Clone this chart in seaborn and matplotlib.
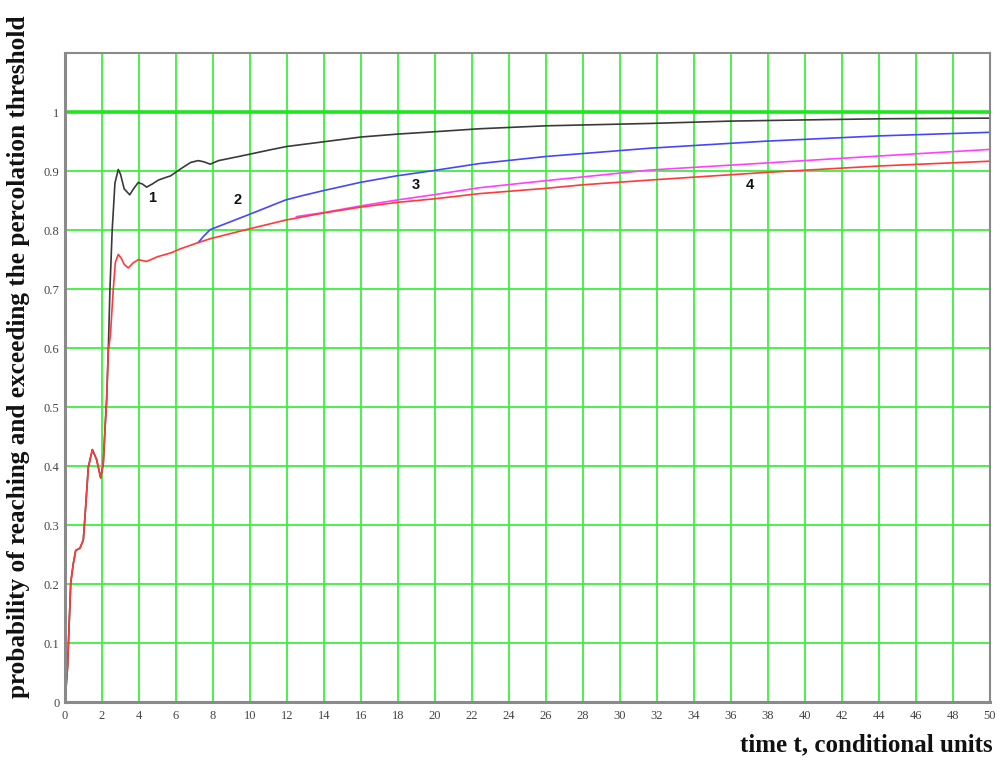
import numpy as np
import pandas as pd
import matplotlib
matplotlib.use("Agg")
import matplotlib.pyplot as plt
import seaborn as sns

# early part shared by all curves
t_common = [0.0, 0.14, 0.22, 0.31, 0.45, 0.58, 0.81, 0.99, 1.08, 1.26, 1.48, 1.71, 1.93, 2.07,
            2.16, 2.25, 2.34]
p_common = [0.0, 0.06, 0.128, 0.202, 0.235, 0.257, 0.261, 0.275, 0.314, 0.398, 0.428, 0.411, 0.38, 0.405,
            0.462, 0.512, 0.596]

# curve 1 (black)
t_black = [2.43, 2.55, 2.70, 2.88, 3.0, 3.2, 3.5, 3.7, 3.96, 4.2, 4.41, 4.7, 5.05, 5.5, 5.7,
           6.3, 6.8, 7.2, 7.5, 7.85, 8.3, 9.4, 11.2, 12.0, 14.0, 16.0, 18.0, 20.0, 22.4, 26.0,
           31.6, 36.0, 40.0, 44.3, 50.0]
p_black = [0.70, 0.80, 0.88, 0.903, 0.895, 0.87, 0.86, 0.87, 0.881, 0.878, 0.873, 0.878, 0.885, 0.89, 0.892,
           0.905, 0.915, 0.918, 0.916, 0.912, 0.918, 0.925, 0.937, 0.942, 0.950, 0.958, 0.963, 0.967, 0.972, 0.977,
           0.981, 0.985, 0.987, 0.989, 0.99]

# curve 4 (red)
t_red = [2.45, 2.61, 2.72, 2.88, 3.05, 3.2, 3.42, 3.7, 3.96, 4.41, 5.0, 5.77, 6.2, 7.2, 7.9,
         9.8, 11.9, 13.95, 15.95, 17.9, 19.9, 22.4, 26.0, 28.0, 31.6, 37.9, 44.1, 50.0]
p_red = [0.62, 0.70, 0.745, 0.759, 0.752, 0.742, 0.736, 0.745, 0.75, 0.747, 0.755, 0.762, 0.768, 0.779, 0.786,
         0.801, 0.817, 0.829, 0.839, 0.847, 0.853, 0.862, 0.871, 0.877, 0.885, 0.898, 0.909, 0.917]

# curve 2 (blue), branches off red
t_blue = [7.2, 7.5, 7.85, 9.9, 11.9, 12.75, 13.95, 15.95, 17.9, 19.9, 22.4, 26.0, 31.6, 37.9, 44.1, 50.0]
p_blue = [0.779, 0.79, 0.801, 0.826, 0.851, 0.858, 0.867, 0.881, 0.892, 0.901, 0.913, 0.925, 0.939, 0.951, 0.96, 0.966]

# curve 3 (magenta), branches off red
t_magenta = [12.5, 14.0, 15.95, 17.9, 19.9, 22.4, 26.0, 31.6, 37.9, 44.1, 50.0]
p_magenta = [0.823, 0.830, 0.841, 0.851, 0.86, 0.872, 0.884, 0.902, 0.914, 0.926, 0.937]

curve_labels = ["1", "2", "3", "4"]
label_t = [4.7, 9.35, 18.97, 37.0]
label_p = [0.855, 0.852, 0.877, 0.877]

x_ticks = list(range(0, 51, 2))
y_ticks = [0, 0.1, 0.2, 0.3, 0.4, 0.5, 0.6, 0.7, 0.8, 0.9, 1.0]
y_tick_labels = ["0", "0.1", "0.2", "0.3", "0.4", "0.5", "0.6", "0.7", "0.8", "0.9", "1"]

GRID_GREEN = "#3cf03c"

sns.set_style("white")

fig = plt.figure(figsize=(10, 7.61), dpi=100)
ax = fig.add_axes([0.065, 0.0775, 0.925, 0.8525])

black_df = pd.DataFrame({"t": t_common + t_black, "p": p_common + p_black})
red_df = pd.DataFrame({"t": t_common + t_red, "p": p_common + p_red})
blue_df = pd.DataFrame({"t": t_blue, "p": p_blue})
magenta_df = pd.DataFrame({"t": t_magenta, "p": p_magenta})

for v in x_ticks:
    ax.axvline(v, color=GRID_GREEN, lw=1.3, zorder=0)
for v in y_ticks[:-1]:
    ax.axhline(v, color=GRID_GREEN, lw=1.3, zorder=0)
ax.axhline(1.0, color="#1ee61e", lw=2.6, zorder=0)

sns.lineplot(data=black_df, x="t", y="p", color="#3a3a3a", lw=1.2, ax=ax, sort=False)
sns.lineplot(data=blue_df, x="t", y="p", color="#4646ff", lw=1.2, ax=ax, sort=False)
sns.lineplot(data=magenta_df, x="t", y="p", color="#ff40ff", lw=1.2, ax=ax, sort=False)
sns.lineplot(data=red_df, x="t", y="p", color="#ff3a3a", lw=1.2, ax=ax, sort=False)

for lab, tx, py in zip(curve_labels, label_t, label_p):
    ax.text(tx, py, lab, fontsize=10.5, fontweight="bold", family="Liberation Sans",
            ha="center", va="center", color="#111111")

ax.set_xlim(0, 50)
ax.set_ylim(0, 1.1)
ax.set_xticks(x_ticks)
ax.set_xticklabels([str(v) for v in x_ticks], family="Liberation Serif", fontsize=9, color="#444444")
ax.set_yticks(y_ticks)
ax.set_yticklabels(y_tick_labels, family="Liberation Serif", fontsize=9, color="#444444")
ax.tick_params(axis="x", length=0, pad=6)
ax.tick_params(axis="y", length=0, pad=4)
ax.set_xlabel("")
ax.set_ylabel("")

for side in ["left", "bottom"]:
    ax.spines[side].set_color("#8a8a8a")
    ax.spines[side].set_linewidth(2.2)
for side in ["top", "right"]:
    ax.spines[side].set_color("#8a8a8a")
    ax.spines[side].set_linewidth(1.5)

fig.text(0.019, 0.531, "probability of reaching and exceeding the percolation threshold",
         rotation=90, ha="center", va="center", fontsize=18.2, fontweight="bold",
         family="Liberation Serif", color="#111111")
fig.text(0.993, 0.021, "time t, conditional units", ha="right", va="center",
         fontsize=18, fontweight="bold", family="Liberation Serif", color="#111111")

fig.savefig("out.png", dpi=100)
plt.close(fig)
